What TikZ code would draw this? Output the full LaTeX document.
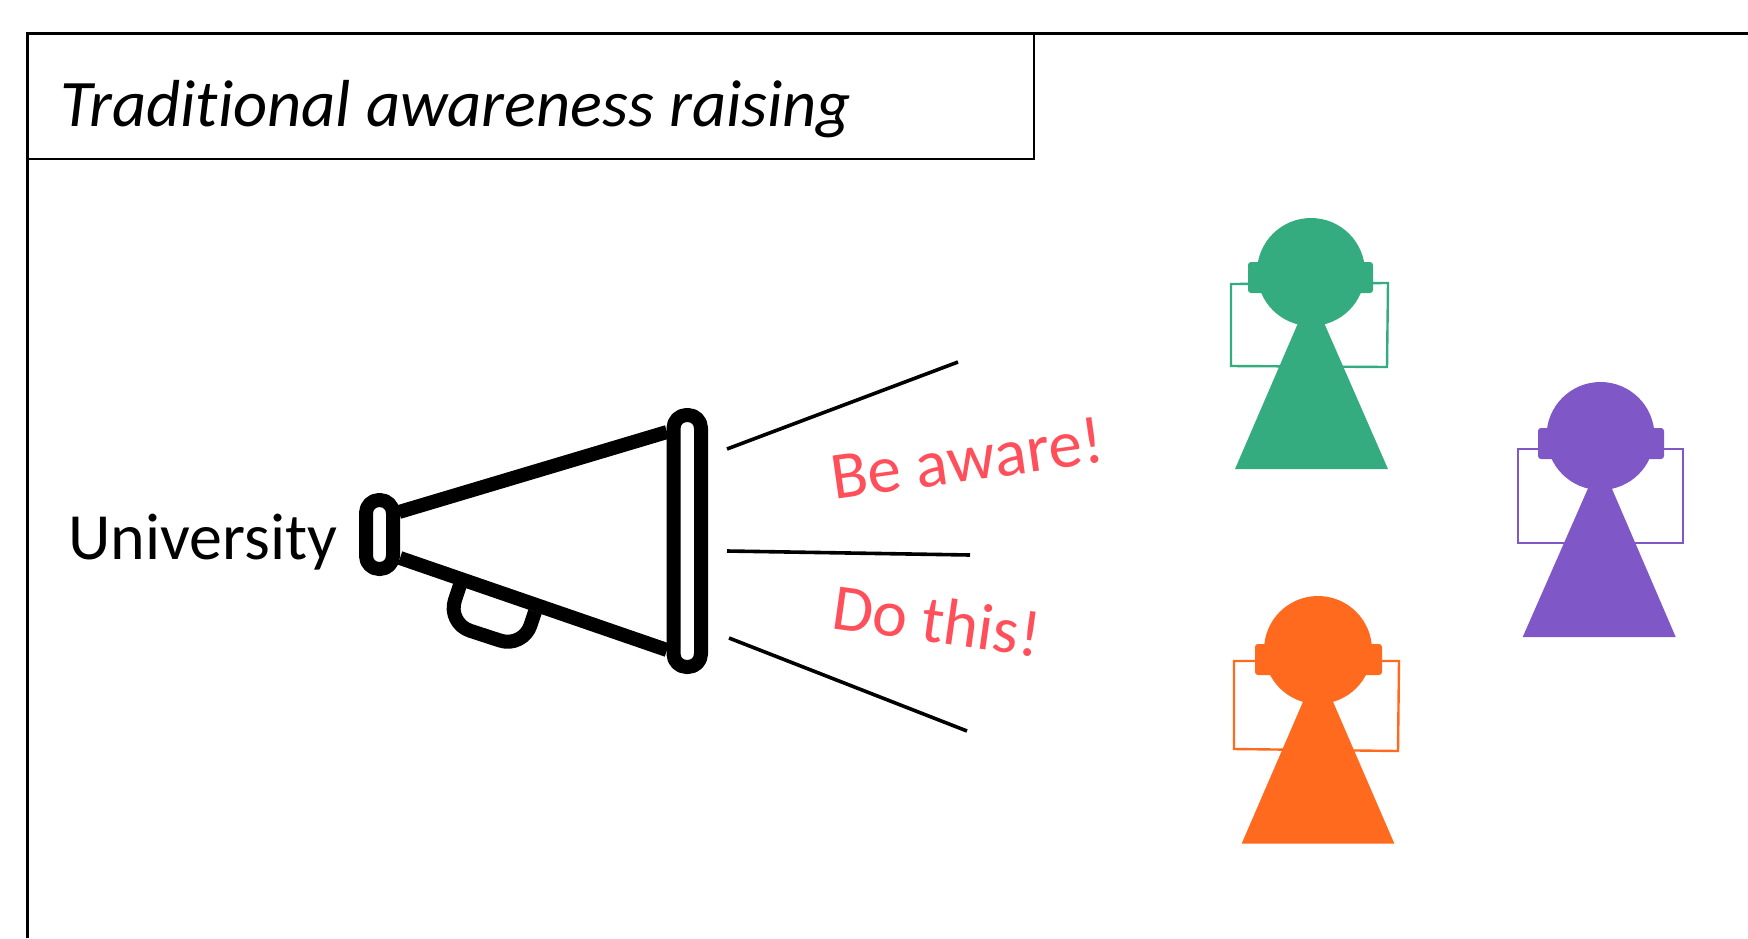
\documentclass[tikz,border=0pt]{standalone}
\usepackage{fontspec}
\setmainfont[RawFeature={-liga;-clig}]{Carlito}
\definecolor{pgreen}{HTML}{35AC7F}
\definecolor{porange}{HTML}{FF6A1F}
\definecolor{ppurple}{HTML}{7F57C6}
\definecolor{shout}{HTML}{FF4F5A}
\tikzset{
  megaline/.style={line width=14pt,line join=round,draw=black},
  ray/.style={line width=3.6pt,draw=black},
  frameline/.style={line width=3pt,draw=black},
  titlebox/.style={line width=1.2pt,draw=black,inner sep=0pt},
  lbl/.style={inner sep=0pt,anchor=base west},
  shouttext/.style={inner sep=0pt,anchor=base west,text=shout,font=\fontsize{66}{72}\selectfont,rotate=#1},
  cardline/.style={line width=2.4pt,line join=miter},
}
\begin{document}
\begin{tikzpicture}[x=1pt,y=-1pt]
\useasboundingbox (0,0) rectangle (1748,938);
% frame
\coordinate (fbl) at (27,938);
\coordinate (ftl) at (27,33);
\coordinate (ftr) at (1748,33);
\draw[frameline] (fbl) -- (ftl) -- (ftr);
\node[titlebox,minimum width=1007pt,minimum height=126pt] (title) at (530.5,96) {};
\node[lbl,font=\fontsize{66.5}{72}\selectfont\itshape] (titletext) at (60,126) {Traditional awareness raising};
\node[lbl,font=\fontsize{66}{72}\selectfont] (uni) at (68,559) {University};
% megaphone
\draw[megaline] (399,512) -- (667,432);
\draw[megaline] (400,558) -- (667,650);
\draw[megaline,rounded corners=24pt] (460,585) -- (447.3,623.3) -- (523,648) -- (535,611.7);
\draw[megaline,rounded corners=13pt,fill=white] (366,500) rectangle (393,569);
\draw[megaline,rounded corners=13pt,fill=white] (673.5,415) rectangle (701,667);
% rays
\coordinate (r1a) at (727,449); \coordinate (r1b) at (958,362);
\coordinate (r2a) at (727,551); \coordinate (r2b) at (970,555);
\coordinate (r3a) at (729,638); \coordinate (r3b) at (967,731);
\draw[ray] (r1a) -- (r1b);
\draw[ray] (r2a) -- (r2b);
\draw[ray] (r3a) -- (r3b);
\node[shouttext=8,font=\fontsize{67.3}{72}\selectfont] (s1) at (834,500) {Be aware!};
\node[shouttext=-8] (s2) at (830,628) {Do this!};
% green person
\begin{scope}[pgreen]
\draw[cardline] (1231,284) -- (1388,283) -- (1387,367) -- (1231,366) -- cycle;
\fill[rounded corners=3pt] (1248,262) rectangle (1373,293);
\fill (1311,272) circle (54);
\fill (1311,293) -- (1388,469) -- (1235,469) -- cycle;
\end{scope}
% orange person
\begin{scope}[porange]
\draw[cardline] (1234,661) -- (1399,661) -- (1398,751) -- (1234,749) -- cycle;
\fill[rounded corners=3pt] (1255,644) rectangle (1382,675);
\fill (1318,650) circle (54);
\fill (1318,667) -- (1394.3,843.5) -- (1241.7,843.5) -- cycle;
\end{scope}
% purple person
\begin{scope}[ppurple]
\draw[cardline] (1518,449) rectangle (1683,543);
\fill[rounded corners=3pt] (1538,428) rectangle (1664,459);
\fill (1600.5,436) circle (54);
\fill (1600,461) -- (1675.7,637) -- (1522.7,637) -- cycle;
\end{scope}
\end{tikzpicture}
\end{document}
